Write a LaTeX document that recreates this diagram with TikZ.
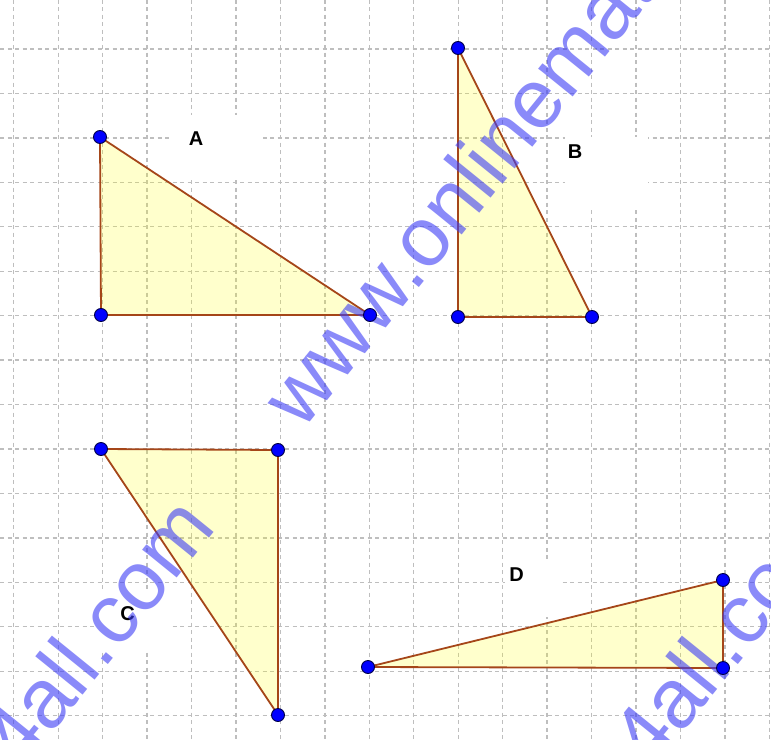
\documentclass[tikz,border=0pt]{standalone}
\usepackage{fontspec}
\setmainfont{Liberation Sans}
\definecolor{gridgray}{RGB}{190,190,190}
\definecolor{edgebrown}{RGB}{165,70,25}
\definecolor{polyfill}{RGB}{255,255,0}
\definecolor{dotblue}{RGB}{0,0,255}
\definecolor{dotrim}{RGB}{0,0,70}
\definecolor{wmblue}{RGB}{60,60,245}
\begin{document}
\begin{tikzpicture}[x=1bp,y=-1bp,
  gridline/.style={draw=gridgray,line width=1.3bp,dash pattern=on 4bp off 3.5bp},
  tri/.style={fill=polyfill,fill opacity=0.2},
  triedge/.style={draw=edgebrown,line width=1.8bp,line join=round},
  vtx/.style={circle,fill=dotblue,draw=dotrim,line width=0.9bp,minimum size=13bp,inner sep=0pt},
  lab/.style={font=\fontsize{20bp}{20bp}\selectfont\bfseries,text=black,inner sep=0pt},
  labbox/.style={fill=white},
  wm/.style={font=\fontsize{84bp}{84bp}\selectfont,text=wmblue,text opacity=0.6,inner sep=0pt,anchor=base west,rotate=51}]
\useasboundingbox (0,0) rectangle (771,740);
\fill[white] (0,0) rectangle (771,740);
% grid
\foreach \i in {0,...,17} \draw[gridline] ({13.8+44.44*\i},0) -- ({13.8+44.44*\i},740);
\foreach \j in {1,...,16} \draw[gridline] (0,{4.6+44.44*\j}) -- (771,{4.6+44.44*\j});
% label boxes
\fill[labbox] (170,115) rectangle (263,178);
\fill[labbox] (565,137) rectangle (648,207);
\fill[labbox] (97,590) rectangle (170,650);
\fill[labbox] (505,560) rectangle (560,617);
% vertices
\coordinate (a1) at (100,137);
\coordinate (a2) at (101,315);
\coordinate (a3) at (370,315);
\coordinate (b1) at (458,48);
\coordinate (b2) at (458,317);
\coordinate (b3) at (592,317);
\coordinate (c1) at (101,449);
\coordinate (c2) at (278,450);
\coordinate (c3) at (278,715);
\coordinate (d1) at (368,667);
\coordinate (d2) at (723,580);
\coordinate (d3) at (723,668);
% triangles
\fill[tri] (a1) -- (a2) -- (a3) -- cycle;
\fill[tri] (b1) -- (b2) -- (b3) -- cycle;
\fill[tri] (c1) -- (c2) -- (c3) -- cycle;
\fill[tri] (d1) -- (d2) -- (d3) -- cycle;
\draw[triedge] (a1) -- (a2) -- (a3) -- cycle;
\draw[triedge] (b1) -- (b2) -- (b3) -- cycle;
\draw[triedge] (c1) -- (c2) -- (c3) -- cycle;
\draw[triedge] (d1) -- (d2) -- (d3) -- cycle;
% labels
\node[lab] (lA) at (196,139) {A};
\node[lab] (lB) at (575,152) {B};
\node[lab] (lC) at (127.5,613.5) {C};
\node[lab] (lD) at (516.5,575) {D};
% watermark
\node[wm] (w1) at (302.4,431.5) {www.onlinemath4all.com};
\node[wm] (w2) at (-363.8,1247) {www.onlinemath4all.com};
\node[wm] (w3) at (266.2,1247) {www.onlinemath4all.com};
% dots
\foreach \p in {a1,a2,a3,b1,b2,b3,c1,c2,c3,d1,d2,d3} \node[vtx] (v\p) at (\p) {};
\end{tikzpicture}
\end{document}
